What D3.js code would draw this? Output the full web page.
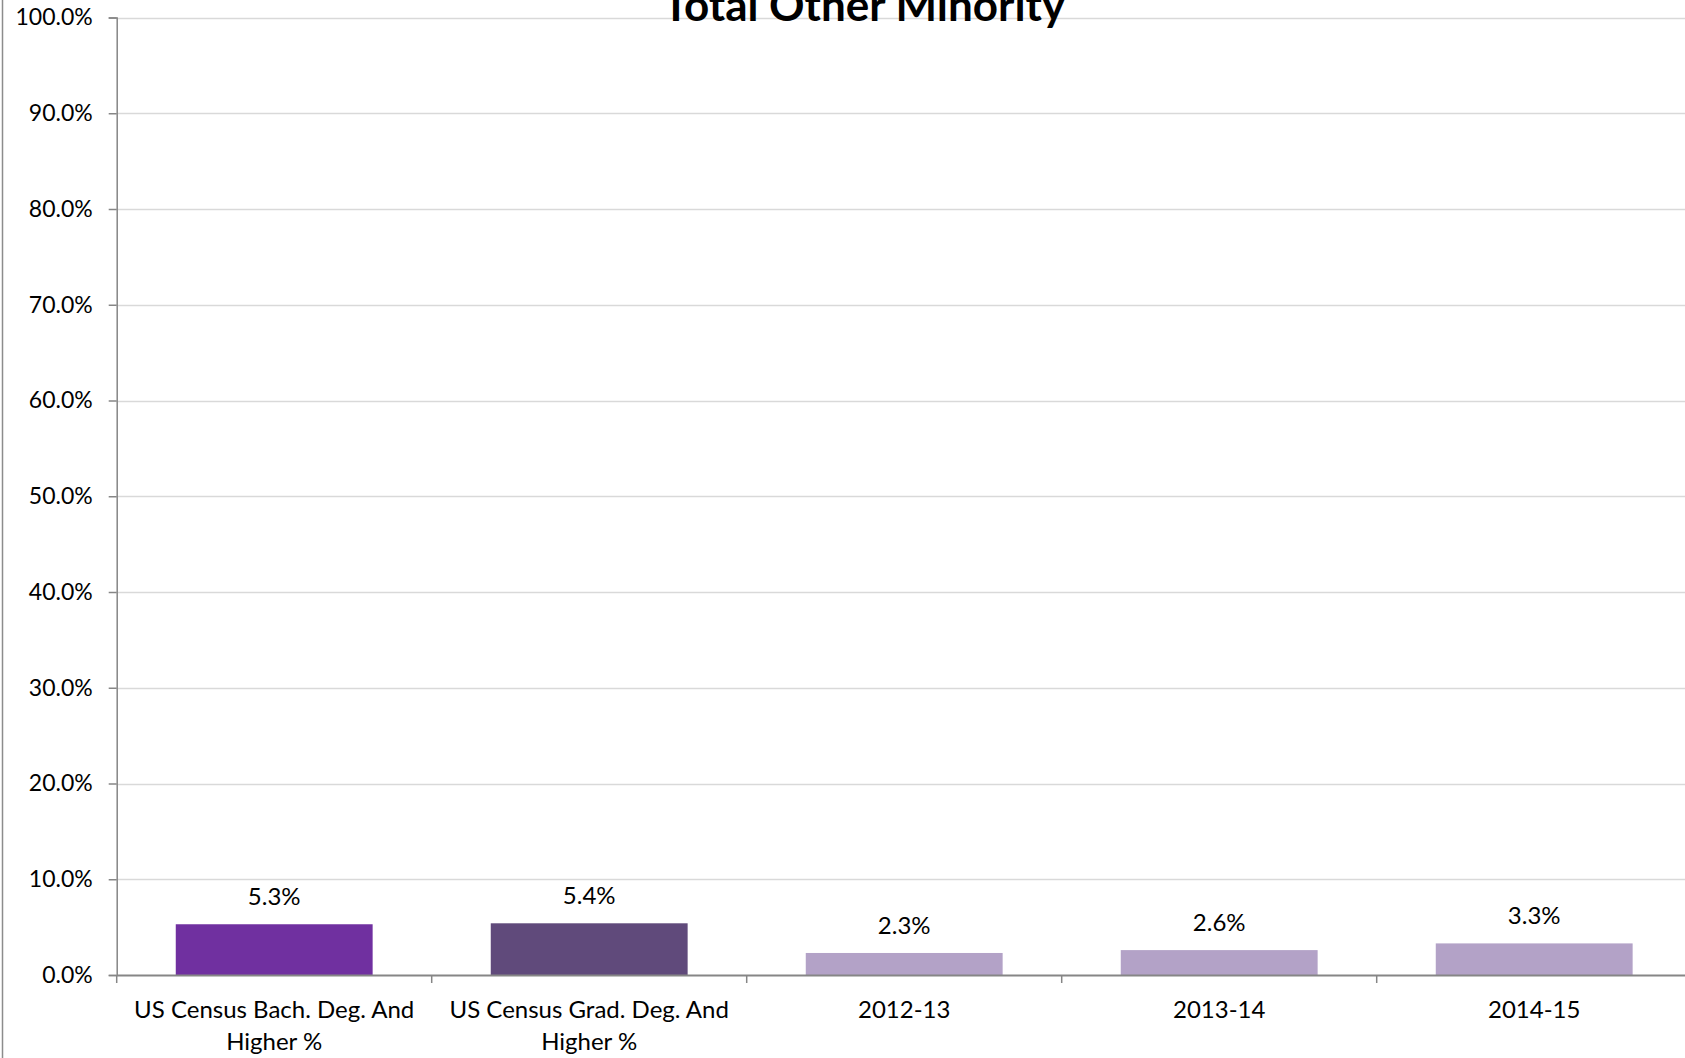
<!DOCTYPE html>
<html>
<head>
<meta charset="utf-8">
<script src="https://cdn.jsdelivr.net/npm/d3@7"></script>
<style>
  html, body { margin: 0; padding: 0; background: #fff; overflow: hidden; }
  svg { display: block; }
  text { font-family: Lato, "Open Sans", sans-serif; }
</style>
</head>
<body>
<svg id="chart" width="1685" height="1058"></svg>
<script>
// ---- data ----
const chartTitle = "Total Other Minority";
const categories = [
  "US Census Bach. Deg. And Higher %",
  "US Census Grad. Deg. And Higher %",
  "2012-13",
  "2013-14",
  "2014-15"
];
const categoryLines = [
  ["US Census Bach. Deg. And", "Higher %"],
  ["US Census Grad. Deg. And", "Higher %"],
  ["2012-13"],
  ["2013-14"],
  ["2014-15"]
];
const values = [0.053, 0.054, 0.023, 0.026, 0.033];
const barColors = ["#7030A0", "#604A7B", "#B3A2C7", "#B3A2C7", "#B3A2C7"];
const yTicks = [0, 0.1, 0.2, 0.3, 0.4, 0.5, 0.6, 0.7, 0.8, 0.9, 1.0];

// ---- layout ----
const svg = d3.select("#chart");
const W = 1685, H = 1058;
const plot = { left: 116.7, top: 17.5, bottom: 975, right: 1691.7 };

const x = d3.scaleBand()
  .domain(categories)
  .range([plot.left, plot.right])
  .paddingInner(0.375)
  .paddingOuter(0.1875);

const y = d3.scaleLinear().domain([0, 1]).range([plot.bottom, plot.top]);

// chart-area left border
svg.append("line")
  .attr("x1", 2.5).attr("x2", 2.5).attr("y1", 0).attr("y2", H)
  .attr("stroke", "#8c8c8c").attr("stroke-width", 1.5);

// gridlines
svg.append("g").selectAll("line")
  .data(yTicks.filter(d => d > 0))
  .join("line")
  .attr("x1", plot.left).attr("x2", W)
  .attr("y1", d => Math.round(y(d)) + 0.5).attr("y2", d => Math.round(y(d)) + 0.5)
  .attr("stroke", "#d9d9d9").attr("stroke-width", 1.5);

// y axis
const yAxis = svg.append("g")
  .attr("transform", `translate(${plot.left},0)`)
  .call(d3.axisLeft(y).tickValues(yTicks).tickFormat(d3.format(".1%")).tickSize(8).tickPadding(16));
yAxis.select(".domain").attr("stroke", "#868686").attr("stroke-width", 1.5);
yAxis.selectAll(".tick line").attr("stroke", "#868686").attr("stroke-width", 1.5);
yAxis.selectAll(".tick text").attr("font-size", 23).attr("fill", "#000")
  .style("font-family", "Lato, sans-serif");

// bars
svg.append("g").selectAll("rect")
  .data(values)
  .join("rect")
  .attr("x", (d, i) => x(categories[i]))
  .attr("width", x.bandwidth())
  .attr("y", d => y(d))
  .attr("height", d => y(0) - y(d))
  .attr("fill", (d, i) => barColors[i]);

// value labels
svg.append("g").selectAll("text")
  .data(values)
  .join("text")
  .attr("x", (d, i) => x(categories[i]) + x.bandwidth() / 2)
  .attr("y", d => y(d) - 19)
  .attr("text-anchor", "middle")
  .attr("font-size", 24)
  .attr("fill", "#000")
  .text(d => d3.format(".1%")(d));

// x axis
const xAxis = svg.append("g")
  .attr("transform", `translate(0,${plot.bottom})`)
  .call(d3.axisBottom(x).tickSize(0).tickFormat(""));
xAxis.select(".domain").attr("stroke", "#868686").attr("stroke-width", 2);
xAxis.selectAll(".tick").remove();

// boundary tick marks between categories
const step = x.step();
const boundaries = d3.range(categories.length + 1).map(i => plot.left + i * step);
svg.append("g").selectAll("line")
  .data(boundaries)
  .join("line")
  .attr("x1", d => d).attr("x2", d => d)
  .attr("y1", plot.bottom).attr("y2", plot.bottom + 8)
  .attr("stroke", "#868686").attr("stroke-width", 1.5);

// category labels
const catG = svg.append("g").selectAll("text")
  .data(categories)
  .join("text")
  .attr("x", d => x(d) + x.bandwidth() / 2)
  .attr("y", plot.bottom + 43)
  .attr("text-anchor", "middle")
  .attr("font-size", 24)
  .attr("fill", "#000");
catG.each(function(d, i) {
  const t = d3.select(this);
  categoryLines[i].forEach((line, j) => {
    t.append("tspan")
      .attr("x", x(d) + x.bandwidth() / 2)
      .attr("dy", j === 0 ? 0 : 32)
      .text(line);
  });
});

// title (clipped at top like the reference)
svg.append("text")
  .attr("x", 864)
  .attr("y", 21)
  .attr("text-anchor", "middle")
  .attr("font-size", 44)
  .attr("font-weight", "bold")
  .attr("fill", "#000")
  .text(chartTitle);
</script>
</body>
</html>
